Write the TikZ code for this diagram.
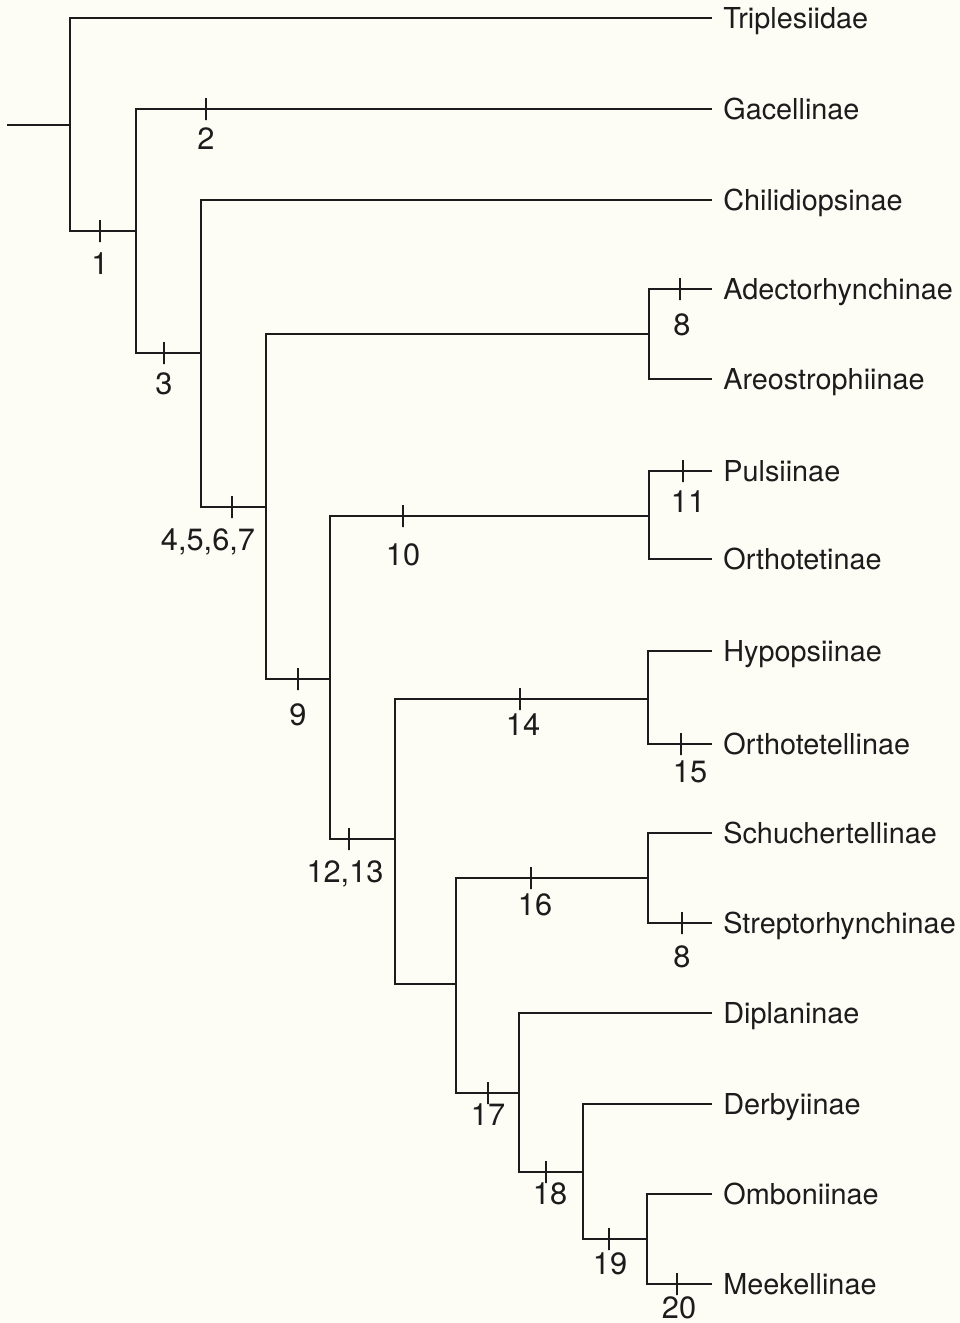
\documentclass[tikz,border=0pt]{standalone}
\usepackage{fontspec}
\setmainfont{TeX Gyre Heros}
\usepackage{xcolor}
\definecolor{PaperCream}{RGB}{253,253,246}
\definecolor{InkBlack}{RGB}{28,28,28}

\begin{document}
\begin{tikzpicture}[x=0.2mm,y=-0.2mm,
  branch/.style={draw=InkBlack,line width=1pt},
  tick/.style={draw=InkBlack,line width=1pt,inner sep=0pt,
               minimum width=0pt,minimum height=4.4mm},
  taxon/.style={anchor=west,inner xsep=2.2mm,inner ysep=0pt,text height=12pt,
                text depth=0pt,font=\fontsize{16.4}{19}\selectfont,text=InkBlack},
  chr/.style={anchor=north,inner sep=0pt,text height=12.5pt,text depth=0pt,
              font=\fontsize{17.5}{20}\selectfont,text=InkBlack},
]
\fill[PaperCream] (0,0) rectangle (960,1323);
\useasboundingbox (0,0) rectangle (960,1323);

\coordinate (root) at (7,125);
\coordinate (n1) at (70,125);
\coordinate (n2) at (136,231);
\coordinate (n3) at (201,353);
\coordinate (n4) at (266,507);
\coordinate (n5) at (649,334);
\coordinate (n6) at (330,679);
\coordinate (n7) at (649,516);
\coordinate (n8) at (395,839);
\coordinate (n9) at (648,699);
\coordinate (n10) at (456,984);
\coordinate (n11) at (648,878);
\coordinate (n12) at (519,1093);
\coordinate (n13) at (583,1172);
\coordinate (n14) at (647,1239);

\node[taxon] (tri) at (712,18) {Triplesiidae};
\node[taxon] (gac) at (712,109) {Gacellinae};
\node[taxon] (chi) at (712,200) {Chilidiopsinae};
\node[taxon] (ade) at (712,289) {Adectorhynchinae};
\node[taxon] (are) at (712,379) {Areostrophiinae};
\node[taxon] (pul) at (712,471) {Pulsiinae};
\node[taxon] (ort) at (712,559) {Orthotetinae};
\node[taxon] (hyp) at (712,651) {Hypopsiinae};
\node[taxon] (otl) at (712,744) {Orthotetellinae};
\node[taxon] (sch) at (712,833) {Schuchertellinae};
\node[taxon] (str) at (712,923) {Streptorhynchinae};
\node[taxon] (dip) at (712,1013) {Diplaninae};
\node[taxon] (der) at (712,1104) {Derbyiinae};
\node[taxon] (omb) at (712,1194) {Omboniinae};
\node[taxon] (mee) at (712,1284) {Meekellinae};

\draw[branch] (root) -- (n1);
\draw[branch] (n1) |- (tri);
\draw[branch] (n1) |- (n2);
\draw[branch] (n2) |- (gac);
\draw[branch] (n2) |- (n3);
\draw[branch] (n3) |- (chi);
\draw[branch] (n3) |- (n4);
\draw[branch] (n4) |- (n5);
\draw[branch] (n4) |- (n6);
\draw[branch] (n5) |- (ade);
\draw[branch] (n5) |- (are);
\draw[branch] (n6) |- (n7);
\draw[branch] (n6) |- (n8);
\draw[branch] (n7) |- (pul);
\draw[branch] (n7) |- (ort);
\draw[branch] (n8) |- (n9);
\draw[branch] (n8) |- (n10);
\draw[branch] (n9) |- (hyp);
\draw[branch] (n9) |- (otl);
\draw[branch] (n10) |- (n11);
\draw[branch] (n10) |- (n12);
\draw[branch] (n11) |- (sch);
\draw[branch] (n11) |- (str);
\draw[branch] (n12) |- (dip);
\draw[branch] (n12) |- (n13);
\draw[branch] (n13) |- (der);
\draw[branch] (n13) |- (n14);
\draw[branch] (n14) |- (omb);
\draw[branch] (n14) |- (mee);

\node[tick] (k1) at (100,231) {};
\node[chr] (c1) at (100,252) {1};
\node[tick] (k2) at (206,109) {};
\node[chr] (c2) at (206,127) {2};
\node[tick] (k3) at (164,353) {};
\node[chr] (c3) at (164,372) {3};
\node[tick] (k4) at (232,507) {};
\node[chr] (c4) at (208,528) {4,5,6,7};
\node[tick] (k8a) at (680,289) {};
\node[chr] (c8a) at (682,313) {8};
\node[tick] (k9) at (298,679) {};
\node[chr] (c9) at (298,703) {9};
\node[tick] (k10) at (403,516) {};
\node[chr] (c10) at (403,543) {10};
\node[tick] (k11) at (683,471) {};
\node[chr] (c11) at (688,490) {11};
\node[tick] (k12) at (349,839) {};
\node[chr] (c12) at (345,860) {12,13};
\node[tick] (k14) at (520,699) {};
\node[chr] (c14) at (523,713) {14};
\node[tick] (k15) at (681,744) {};
\node[chr] (c15) at (690,760) {15};
\node[tick] (k16) at (531,878) {};
\node[chr] (c16) at (535,893) {16};
\node[tick] (k8b) at (682,923) {};
\node[chr] (c8b) at (682,945) {8};
\node[tick] (k17) at (488,1093) {};
\node[chr] (c17) at (488,1103) {17};
\node[tick] (k18) at (546,1172) {};
\node[chr] (c18) at (550,1182) {18};
\node[tick] (k19) at (609,1239) {};
\node[chr] (c19) at (610,1252) {19};
\node[tick] (k20) at (677,1284) {};
\node[chr] (c20) at (679,1296) {20};
\end{tikzpicture}
\end{document}
